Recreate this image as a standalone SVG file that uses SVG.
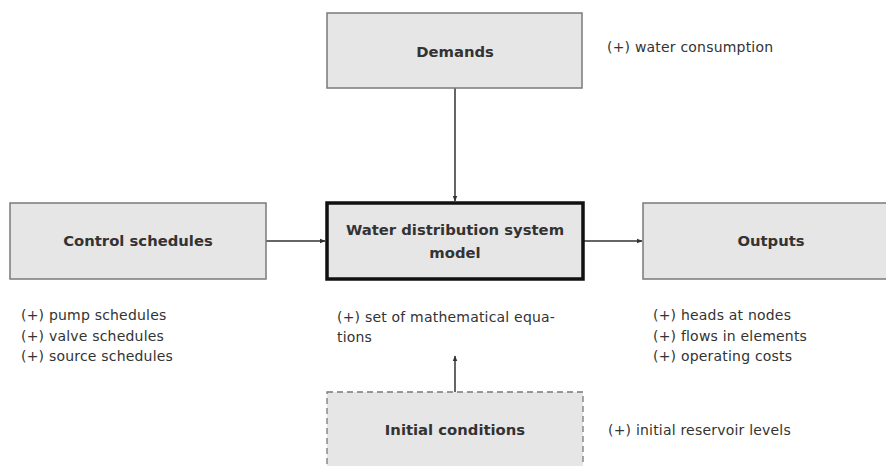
<svg xmlns="http://www.w3.org/2000/svg" width="886" height="466" viewBox="0 0 886 466">
<defs>
<style>
.box{fill:#e6e6e6;stroke:#7a7a7a;stroke-width:1.5}
.main{fill:#e6e6e6;stroke:#111;stroke-width:3.5}
.dash{fill:#e6e6e6;stroke:#7a7a7a;stroke-width:1.3;stroke-dasharray:6,4}
.title{font-family:"DejaVu Sans","Liberation Sans",sans-serif;font-weight:bold;font-size:14.8px;fill:#333;text-anchor:middle}
.note{font-family:"DejaVu Sans","Liberation Sans",sans-serif;font-size:14px;letter-spacing:0.2px;fill:#333}
.conn{stroke:#333;stroke-width:1.5;fill:none;marker-end:url(#ah)}
</style>
<marker id="ah" viewBox="0 0 10 10" refX="9" refY="5" markerWidth="6" markerHeight="6" orient="auto" markerUnits="userSpaceOnUse">
<path d="M0,1 L10,5 L0,9 Z" fill="#333"/>
</marker>
</defs>
<rect width="886" height="466" fill="#fff"/>
<g id="connectors">
<line class="conn" x1="455" y1="88" x2="455" y2="201"/>
<line class="conn" x1="266" y1="241" x2="325" y2="241"/>
<line class="conn" x1="584" y1="241" x2="642" y2="241"/>
<line class="conn" x1="455" y1="392" x2="455" y2="356"/>
</g>
<g id="demands">
<rect class="box" x="327" y="13" width="255" height="75"/>
<text class="title" x="455" y="57">Demands</text>
<text class="note" x="607" y="52">(+) water consumption</text>
</g>
<g id="control">
<rect class="box" x="10" y="203" width="256" height="76"/>
<text class="title" x="138" y="246">Control schedules</text>
<text class="note" x="21" y="320">(+) pump schedules</text>
<text class="note" x="21" y="341">(+) valve schedules</text>
<text class="note" x="21" y="361">(+) source schedules</text>
</g>
<g id="model">
<rect class="main" x="327" y="203" width="256" height="76"/>
<text class="title" x="455" y="235">Water distribution system</text>
<text class="title" x="455" y="258">model</text>
<text class="note" x="337" y="322">(+) set of mathematical equa-</text>
<text class="note" x="337" y="342">tions</text>
</g>
<g id="outputs">
<rect class="box" x="643" y="203" width="256" height="76"/>
<text class="title" x="771" y="246">Outputs</text>
<text class="note" x="653" y="320">(+) heads at nodes</text>
<text class="note" x="653" y="341">(+) flows in elements</text>
<text class="note" x="653" y="361">(+) operating costs</text>
</g>
<g id="initial">
<rect class="dash" x="327" y="392" width="256" height="80"/>
<text class="title" x="455" y="435">Initial conditions</text>
<text class="note" x="608" y="435">(+) initial reservoir levels</text>
</g>
</svg>
